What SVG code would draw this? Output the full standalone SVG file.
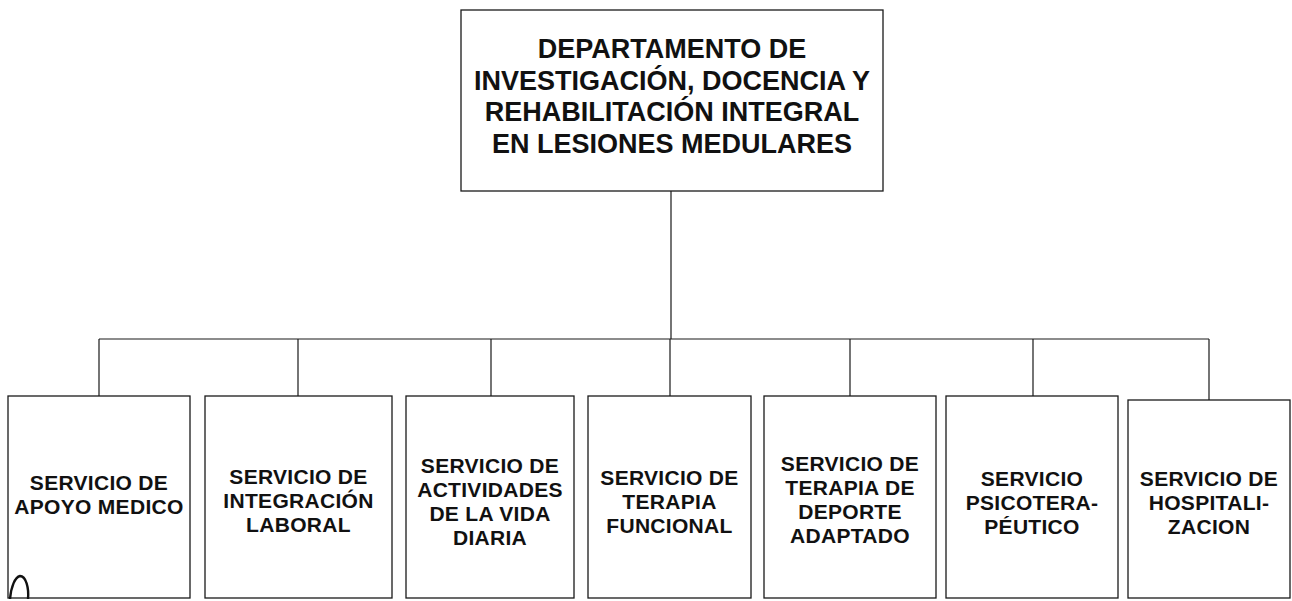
<svg xmlns="http://www.w3.org/2000/svg" width="1292" height="601" viewBox="0 0 1292 601">
<style>
.box{fill:#fff;stroke:#1a1a1a;stroke-width:1.3}
.con{fill:none;stroke:#1a1a1a;stroke-width:1.2}
.t{font-family:"Liberation Sans",Arial,sans-serif;font-weight:bold;fill:#111;text-anchor:middle}
.top{font-size:27px}
.s{font-size:21px;letter-spacing:0.3px}
</style>
<rect width="1292" height="601" fill="#fff"/>
<g id="connectors">
<path class="con" d="M671 191V339M99 339H1209M99 339V396M298 339V396M491 339V396M670 339V396M850 339V396M1033 339V396M1209 339V400"/>
</g>
<g id="dept">
<rect class="box" x="461" y="10" width="422" height="181"/>
<text class="t top" x="672" y="58">DEPARTAMENTO DE</text>
<text class="t top" x="672" y="90">INVESTIGACIÓN, DOCENCIA Y</text>
<text class="t top" x="672" y="121">REHABILITACIÓN INTEGRAL</text>
<text class="t top" x="672" y="153">EN LESIONES MEDULARES</text>
</g>
<g id="apoyo">
<rect class="box" x="8" y="396" width="182" height="202"/>
<text class="t s" x="99" y="490">SERVICIO DE</text>
<text class="t s" x="99" y="514">APOYO MEDICO</text>
</g>
<g id="integracion">
<rect class="box" x="205" y="396" width="187" height="202"/>
<text class="t s" x="298.5" y="484">SERVICIO DE</text>
<text class="t s" x="298.5" y="508">INTEGRACIÓN</text>
<text class="t s" x="298.5" y="532">LABORAL</text>
</g>
<g id="actividades">
<rect class="box" x="406" y="396" width="168" height="202"/>
<text class="t s" x="490" y="473">SERVICIO DE</text>
<text class="t s" x="490" y="497">ACTIVIDADES</text>
<text class="t s" x="490" y="521">DE LA VIDA</text>
<text class="t s" x="490" y="545">DIARIA</text>
</g>
<g id="funcional">
<rect class="box" x="588" y="396" width="163" height="202"/>
<text class="t s" x="669.5" y="485">SERVICIO DE</text>
<text class="t s" x="669.5" y="509">TERAPIA</text>
<text class="t s" x="669.5" y="533">FUNCIONAL</text>
</g>
<g id="deporte">
<rect class="box" x="764" y="396" width="172" height="202"/>
<text class="t s" x="850" y="471">SERVICIO DE</text>
<text class="t s" x="850" y="495">TERAPIA DE</text>
<text class="t s" x="850" y="519">DEPORTE</text>
<text class="t s" x="850" y="543">ADAPTADO</text>
</g>
<g id="psicoterapeutico">
<rect class="box" x="946" y="396" width="172" height="202"/>
<text class="t s" x="1032" y="486">SERVICIO</text>
<text class="t s" x="1032" y="510">PSICOTERA-</text>
<text class="t s" x="1032" y="534">PÉUTICO</text>
</g>
<g id="hospitalizacion">
<rect class="box" x="1128" y="400" width="162" height="198"/>
<text class="t s" x="1209" y="486">SERVICIO DE</text>
<text class="t s" x="1209" y="510">HOSPITALI-</text>
<text class="t s" x="1209" y="534">ZACION</text>
</g>
<path d="M10 599C11 587 15 577 20 576C26 576 29 588 28 599" fill="none" stroke="#111" stroke-width="2.4"/>
</svg>
